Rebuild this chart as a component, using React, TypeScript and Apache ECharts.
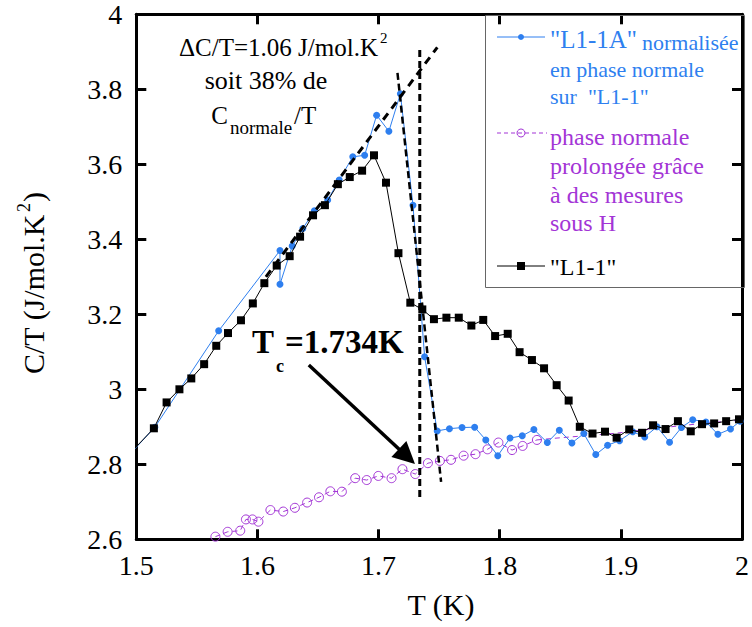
import React, { useEffect, useRef } from "react";
import * as echarts from "echarts";

const FONT = "Liberation Serif";
const BLUE = "#2e7fef";
const PURPLE = "#a335d6";

// "L1-1" (black squares)
const blackT = [1.495, 1.5145, 1.525, 1.5356, 1.5454, 1.556, 1.566, 1.5757, 1.5864, 1.5962, 1.6057, 1.6159, 1.6266, 1.6352, 1.6459, 1.6557, 1.6664, 1.6762, 1.6864, 1.6962, 1.7061, 1.7164, 1.7262, 1.7361, 1.7457, 1.756, 1.7662, 1.7766, 1.7864, 1.7962, 1.8066, 1.8164, 1.8266, 1.8366, 1.847, 1.8569, 1.8661, 1.8766, 1.8869, 1.8965, 1.9069, 1.9175, 1.9266, 1.9369, 1.9471, 1.9577, 1.967, 1.977, 1.9869, 1.9975];
const blackV = [2.83, 2.896, 2.965, 3.0, 3.029, 3.067, 3.116, 3.15, 3.184, 3.229, 3.283, 3.33, 3.355, 3.407, 3.464, 3.491, 3.547, 3.566, 3.583, 3.624, 3.551, 3.363, 3.231, 3.213, 3.187, 3.191, 3.191, 3.17, 3.185, 3.142, 3.148, 3.099, 3.078, 3.056, 3.011, 2.97, 2.9, 2.882, 2.887, 2.871, 2.893, 2.884, 2.904, 2.894, 2.915, 2.888, 2.907, 2.909, 2.915, 2.92];

// "L1-1A" normalisée (blue dots)
const blueT = [1.497, 1.5153, 1.568, 1.6186, 1.6186, 1.6287, 1.6375, 1.647, 1.658, 1.6675, 1.6787, 1.6885, 1.6984, 1.7085, 1.718, 1.7284, 1.738, 1.7484, 1.7585, 1.7689, 1.7793, 1.7885, 1.7984, 1.8085, 1.8186, 1.8282, 1.8393, 1.8492, 1.8596, 1.8694, 1.8793, 1.8891, 1.8989, 1.9098, 1.9197, 1.9298, 1.9402, 1.95, 1.9593, 1.9702, 1.9801, 1.9905, 1.9984];
const blueV = [2.835, 2.899, 3.156, 3.37, 3.28, 3.382, 3.429, 3.476, 3.505, 3.558, 3.62, 3.624, 3.731, 3.688, 3.788, 3.491, 3.087, 2.889, 2.895, 2.898, 2.899, 2.865, 2.823, 2.87, 2.876, 2.893, 2.858, 2.891, 2.857, 2.882, 2.826, 2.851, 2.863, 2.887, 2.873, 2.9, 2.859, 2.898, 2.919, 2.913, 2.88, 2.894, 2.915];

// phase normale prolongée (purple open circles)
const purpleT = [1.5653, 1.5754, 1.5858, 1.5905, 1.5959, 1.6008, 1.6107, 1.6213, 1.6309, 1.641, 1.6508, 1.6602, 1.6697, 1.6807, 1.6902, 1.6998, 1.7107, 1.7197, 1.7303, 1.7407, 1.7506, 1.7598, 1.7702, 1.78, 1.7899, 1.7989, 1.8102, 1.8189, 1.8307];
const purpleV = [2.607, 2.62, 2.623, 2.653, 2.653, 2.647, 2.678, 2.674, 2.684, 2.698, 2.712, 2.728, 2.727, 2.763, 2.758, 2.769, 2.763, 2.787, 2.774, 2.803, 2.809, 2.812, 2.823, 2.827, 2.84, 2.858, 2.838, 2.849, 2.865];
const purpleTailT = [1.8307, 1.8473, 1.8965, 1.9235, 1.9703, 2.0];
const purpleTailV = [2.865, 2.87, 2.883, 2.894, 2.91, 2.918];

// construction lines
const fitT = [1.607, 1.7485];
const fitV = [3.3, 3.912];
const steepT = [1.7156, 1.7516];
const steepV = [3.844, 2.753];
const tcT = [1.734, 1.734];
const tcV = [3.905, 2.709];
const arrowFrom = [1.6424, 3.0648];
const arrowTo = [1.7234, 2.8208];

const xTicks = { min: 1.5, max: 2.0, interval: 0.1 };
const yTicks = { min: 2.6, max: 4.0, interval: 0.2 };

const zip = (a: number[], b: number[]) => a.map((x, i) => [x, b[i]]);

function txt(text: string, x: number, y: number, size: number, fill: string, align = "left", bold = false) {
  const style: any = { text, fill, fontFamily: FONT, fontSize: size, textAlign: align, textVerticalAlign: "middle" };
  if (bold) style.fontWeight = "bold";
  return { type: "text", x, y, z: 20, style };
}

const mkAxisLine = () => ({ show: true, onZero: false, lineStyle: { color: "#000", width: 3 } });
const mkAxisTick = () => ({ show: true, inside: true, length: 10, lineStyle: { color: "#000", width: 3 } });

export default function App() {
  const ref = useRef<HTMLDivElement>(null);
  useEffect(() => {
    if (!ref.current) return;
    const chart = echarts.init(ref.current, null, { renderer: "svg" });
    chart.setOption({
      animation: false,
      backgroundColor: "#fff",
      grid: { left: 136.3, right: 6, top: 14.3, bottom: 87.7 },
      xAxis: [
        {
          type: "value", ...xTicks, position: "bottom", axisLine: mkAxisLine(), axisTick: mkAxisTick(),
          splitLine: { show: false },
          axisLabel: { fontFamily: FONT, fontSize: 28, color: "#000", margin: 12 },
        },
        {
          type: "value", ...xTicks, position: "top", axisLine: mkAxisLine(), axisTick: mkAxisTick(),
          splitLine: { show: false }, axisLabel: { show: false },
        },
      ],
      yAxis: [
        {
          type: "value", ...yTicks, position: "left", axisLine: mkAxisLine(), axisTick: mkAxisTick(),
          splitLine: { show: false },
          axisLabel: { fontFamily: FONT, fontSize: 28, color: "#000", margin: 14 },
        },
        {
          type: "value", ...yTicks, position: "right", axisLine: mkAxisLine(), axisTick: mkAxisTick(),
          splitLine: { show: false }, axisLabel: { show: false },
        },
      ],
      series: [
        {
          type: "line", data: zip(purpleTailT, purpleTailV), symbol: "none",
          lineStyle: { color: PURPLE, width: 1, type: [5, 4] }, z: 2, silent: true,
        },
        {
          type: "line", data: zip(purpleT, purpleV), symbol: "circle", symbolSize: 9,
          lineStyle: { color: PURPLE, width: 1, type: [5, 4] },
          itemStyle: { color: "rgba(0,0,0,0)", borderColor: PURPLE, borderWidth: 1 }, z: 2, silent: true,
        },
        {
          type: "line", data: zip(blueT, blueV), symbol: "circle", symbolSize: 7,
          lineStyle: { color: BLUE, width: 1 }, itemStyle: { color: BLUE }, z: 3, silent: true,
        },
        {
          type: "line", data: zip(blackT, blackV), symbol: "rect", symbolSize: 8,
          lineStyle: { color: "#000", width: 1 }, itemStyle: { color: "#000" }, z: 4, silent: true,
        },
        {
          type: "line", data: zip(fitT, fitV), symbol: "none",
          lineStyle: { color: "#000", width: 3, type: [8, 6] }, z: 5, silent: true,
        },
        {
          type: "line", data: zip(steepT, steepV), symbol: "none",
          lineStyle: { color: "#000", width: 2.5, type: [7, 4] }, z: 5, silent: true,
        },
        {
          type: "line", data: zip(tcT, tcV), symbol: "none",
          lineStyle: { color: "#000", width: 3, type: [7, 4] }, z: 5, silent: true,
        },
        {
          type: "line", data: [], z: 6, silent: true,
          markLine: {
            silent: true, animation: false,
            symbol: ["none", "triangle"], symbolSize: 22,
            label: { show: false },
            itemStyle: { color: "#000" },
            lineStyle: { color: "#000", width: 3.5, type: "solid" },
            emphasis: { disabled: true },
            data: [[{ coord: arrowFrom }, { coord: arrowTo }]],
          },
        },
      ],
      graphic: [
        // y axis name (rotated group)
        {
          type: "group", x: 33, y: 282, rotation: Math.PI / 2, z: 20,
          children: [
            txt("C/T (J/mol.K", -92, 0, 30, "#000", "left"),
            txt("2", 70, -9, 18, "#000", "left"),
            txt(")", 80, 0, 30, "#000", "left"),
          ],
        },
        txt("T (K)", 441, 604, 30, "#000", "center"),
        // top-left annotation
        txt("ΔC/T=1.06 J/mol.K", 378, 47, 25, "#000", "right"),
        txt("2", 380, 38, 15, "#000", "left"),
        txt("soit 38% de", 266, 80, 26, "#000", "center"),
        txt("C", 228, 115, 25, "#000", "right"),
        txt("normale", 230, 127, 19, "#000", "left"),
        txt("/T", 294, 115, 25, "#000", "left"),
        // Tc annotation
        txt("T", 252, 342, 33, "#000", "left", true),
        txt("c", 276, 366, 18, "#000", "left", true),
        txt("=1.734K", 285, 342, 33, "#000", "left", true),
        // legend box
        {
          type: "rect", z: 19,
          shape: { x: 485.5, y: 15.5, width: 259, height: 272 },
          style: { fill: "none", stroke: "#666", lineWidth: 1 },
        },
        { type: "line", z: 20, shape: { x1: 497, y1: 37, x2: 545, y2: 37 }, style: { stroke: BLUE, lineWidth: 1 } },
        { type: "circle", z: 21, shape: { cx: 521, cy: 37, r: 3 }, style: { fill: BLUE } },
        txt('"L1-1A"', 550, 39, 25, BLUE),
        txt("normalisée", 642, 42, 22, BLUE),
        txt("en phase normale", 550, 69, 22, BLUE),
        txt('sur  "L1-1"', 550, 96, 22, BLUE),
        { type: "line", z: 20, shape: { x1: 497, y1: 133, x2: 547, y2: 133 }, style: { stroke: PURPLE, lineWidth: 1, lineDash: [4, 3] } },
        { type: "circle", z: 21, shape: { cx: 521, cy: 133, r: 4 }, style: { fill: "none", stroke: PURPLE, lineWidth: 1 } },
        txt("phase normale", 550, 137, 24, PURPLE),
        txt("prolongée grâce", 550, 166, 24, PURPLE),
        txt("à des mesures", 550, 195, 24, PURPLE),
        txt("sous H", 550, 223, 24, PURPLE),
        { type: "line", z: 20, shape: { x1: 497, y1: 266, x2: 545, y2: 266 }, style: { stroke: "#000", lineWidth: 1 } },
        { type: "rect", z: 21, shape: { x: 517, y: 262, width: 8, height: 8 }, style: { fill: "#000" } },
        txt('"L1-1"', 550, 267, 24, "#000"),
      ],
    });
    return () => chart.dispose();
  }, []);
  return <div ref={ref} style={{ width: 752, height: 627, position: "absolute", left: 0, top: 0 }} />;
}
